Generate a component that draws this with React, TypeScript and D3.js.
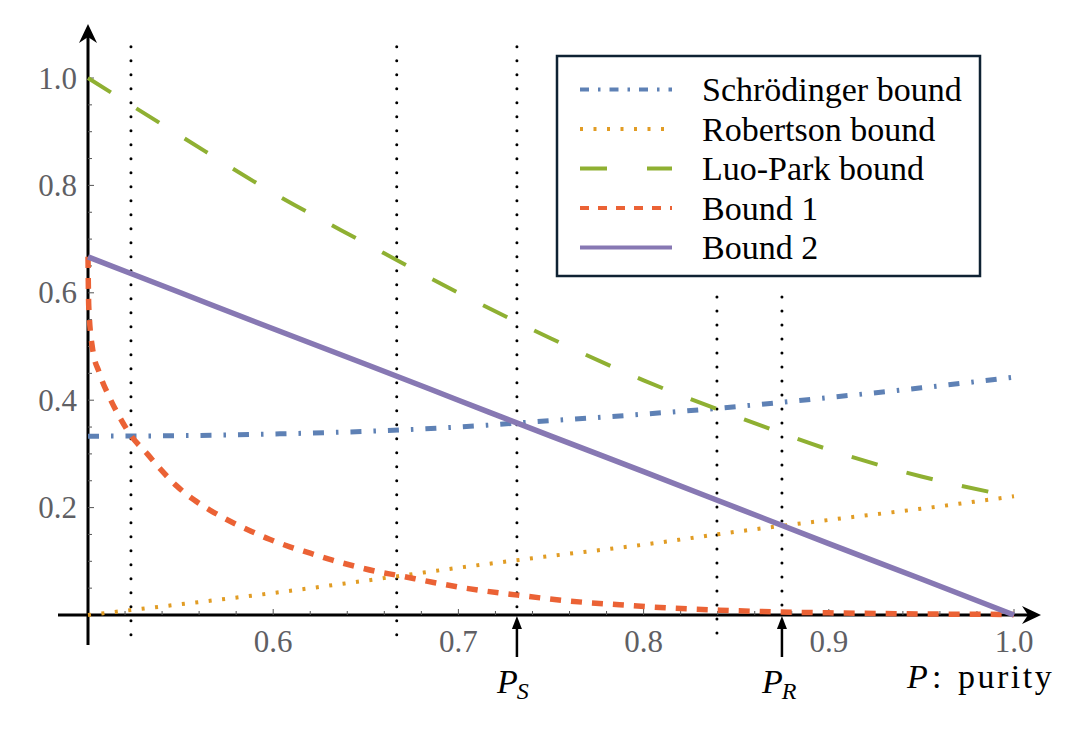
import { useEffect, useRef } from "react";
import * as d3 from "d3";

// purity grid shared by the smooth bounds
const purity = [0.5, 0.55, 0.6, 0.65, 0.7, 0.75, 0.8, 0.85, 0.9, 0.95, 1.0];
const schrodingerBound = [0.333, 0.334, 0.337, 0.342, 0.35, 0.362, 0.374, 0.388, 0.405, 0.423, 0.443];
const robertsonBound = [0.0, 0.02, 0.041, 0.064, 0.088, 0.11, 0.131, 0.155, 0.177, 0.198, 0.221];
const luoParkBound = [1.0, 0.892, 0.786, 0.692, 0.6, 0.515, 0.437, 0.37, 0.308, 0.258, 0.22];
const bound2 = [0.667, 0.6, 0.533, 0.467, 0.4, 0.333, 0.267, 0.2, 0.133, 0.067, 0.0];

// bound 1 falls steeply near P = 0.5, so it gets its own denser grid
const bound1Purity = [
  0.5, 0.5004, 0.5025, 0.506, 0.5115, 0.517, 0.523, 0.532, 0.539, 0.548, 0.557, 0.566,
  0.577, 0.588, 0.598, 0.609, 0.62, 0.632, 0.645, 0.656, 0.667, 0.686, 0.702, 0.732,
  0.76, 0.787, 0.814, 0.841, 0.87, 0.9, 0.95, 1.0,
];
const bound1 = [
  0.667, 0.575, 0.495, 0.452, 0.406, 0.369, 0.335, 0.3, 0.272, 0.24, 0.215, 0.195,
  0.174, 0.156, 0.141, 0.127, 0.115, 0.102, 0.09, 0.081, 0.074, 0.061, 0.051, 0.037,
  0.026, 0.019, 0.013, 0.009, 0.006, 0.004, 0.002, 0.001,
];

const xTickLabels = [0.6, 0.7, 0.8, 0.9, 1.0];
const yTickLabels = [0.2, 0.4, 0.6, 0.8, 1.0];

// vertical dotted markers (crossing points)
const markerPurity = [0.5232, 0.6667, 0.7316, 0.8396, 0.8747];
const markerTop = [1.058, 1.058, 1.058, 0.592, 0.592];
const markerBottom = [-0.056, -0.056, 0, -0.056, 0];

const arrowPurity = [0.7316, 0.8747];
const arrowSub = ["S", "R"];

const seriesNames = ["Schrödinger bound", "Robertson bound", "Luo-Park bound", "Bound 1", "Bound 2"];

const W = 1089;
const H = 729;
const FAMILY = "Liberation Serif";

type Series = {
  name: string;
  xs: number[];
  ys: number[];
  color: string;
  width: number;
  dash: string | null;
  legendDash: string | null;
};

const series: Series[] = [
  { name: seriesNames[0], xs: purity, ys: schrodingerBound, color: "#5e81b5", width: 5, dash: "11 12 2.5 12", legendDash: "9 9 2.5 9" },
  { name: seriesNames[1], xs: purity, ys: robertsonBound, color: "#e19c24", width: 4, dash: "3 10.5", legendDash: "3 10.5" },
  { name: seriesNames[2], xs: purity, ys: luoParkBound, color: "#8fb032", width: 4, dash: "27 30", legendDash: "27 40" },
  { name: seriesNames[3], xs: bound1Purity, ys: bound1, color: "#eb6235", width: 5.5, dash: "11 10", legendDash: "9 9" },
  { name: seriesNames[4], xs: purity, ys: bound2, color: "#8778b3", width: 5.5, dash: null, legendDash: null },
];

export default function App() {
  const svgRef = useRef<SVGSVGElement>(null);

  useEffect(() => {
    if (!svgRef.current) return;
    const svg = d3.select(svgRef.current);
    svg.selectAll("*").remove();

    const x = d3.scaleLinear().domain([0.5, 1]).range([88, 1014]);
    const y = d3.scaleLinear().domain([0, 1]).range([615, 78]);
    const x0 = x(0.5);
    const y0 = y(0);

    svg.append("rect").attr("width", W).attr("height", H).attr("fill", "#fff");

    // dotted crossing markers
    svg
      .append("g")
      .selectAll("line")
      .data(markerPurity)
      .join("line")
      .attr("x1", (d) => x(d))
      .attr("x2", (d) => x(d))
      .attr("y1", (_, i) => y(markerTop[i]))
      .attr("y2", (_, i) => y(markerBottom[i]))
      .attr("stroke", "#000")
      .attr("stroke-width", 3)
      .attr("stroke-dasharray", "0 14")
      .attr("stroke-linecap", "round");

    // axes with arrowheads
    const axes = svg.append("g");
    axes.append("line").attr("x1", x0).attr("x2", x0).attr("y1", 645).attr("y2", 34)
      .attr("stroke", "#000").attr("stroke-width", 3);
    axes.append("path").attr("d", `M${x0},24 L${x0 - 9},43 L${x0},37 L${x0 + 9},43 Z`).attr("fill", "#000");
    axes.append("line").attr("x1", 58).attr("x2", 1030).attr("y1", y0).attr("y2", y0)
      .attr("stroke", "#000").attr("stroke-width", 3);
    axes.append("path").attr("d", `M1041,${y0} L1022,${y0 - 9} L1028,${y0} L1022,${y0 + 9} Z`).attr("fill", "#000");

    const xMinor = d3.range(0.52, 1.001, 0.02);
    const yMinor = d3.range(0.05, 1.001, 0.05);
    axes.selectAll(".xt").data(xMinor).join("line").attr("class", "xt")
      .attr("x1", (d) => x(d)).attr("x2", (d) => x(d))
      .attr("y1", y0)
      .attr("y2", (d) => y0 - (Math.abs(d * 10 - Math.round(d * 10)) < 1e-6 ? 6 : 4))
      .attr("stroke", "#555").attr("stroke-width", 1);
    axes.selectAll(".yt").data(yMinor).join("line").attr("class", "yt")
      .attr("y1", (d) => y(d)).attr("y2", (d) => y(d))
      .attr("x1", x0)
      .attr("x2", (d) => x0 + (Math.abs(d * 5 - Math.round(d * 5)) < 1e-6 ? 6 : 4))
      .attr("stroke", "#555").attr("stroke-width", 1);

    axes.selectAll(".xl").data(xTickLabels).join("text").attr("class", "xl")
      .attr("x", (d) => x(d)).attr("y", 652)
      .attr("text-anchor", "middle")
      .attr("font-family", FAMILY).style("font-family", FAMILY)
      .attr("font-size", 31).attr("fill", "#5f5f64")
      .text((d) => d.toFixed(1));
    axes.selectAll(".yl").data(yTickLabels).join("text").attr("class", "yl")
      .attr("x", 77).attr("y", (d) => y(d) + 10.5)
      .attr("text-anchor", "end")
      .attr("font-family", FAMILY).style("font-family", FAMILY)
      .attr("font-size", 31).attr("fill", "#5f5f64")
      .text((d) => d.toFixed(1));

    // curves
    const line = d3
      .line<[number, number]>()
      .x((d) => x(d[0]))
      .y((d) => y(d[1]))
      .curve(d3.curveMonotoneX);

    svg.append("g").selectAll("path").data(series).join("path")
      .attr("d", (s) => line(s.xs.map((p, i) => [p, s.ys[i]] as [number, number])) || "")
      .attr("fill", "none")
      .attr("stroke", (s) => s.color)
      .attr("stroke-width", (s) => s.width)
      .attr("stroke-dasharray", (s) => s.dash);

    // arrows to P_S and P_R
    const arrows = svg.append("g");
    arrowPurity.forEach((p, i) => {
      const ax = x(p);
      arrows.append("line").attr("x1", ax).attr("x2", ax).attr("y1", 657).attr("y2", 626)
        .attr("stroke", "#000").attr("stroke-width", 2.5);
      arrows.append("path").attr("d", `M${ax},616 L${ax - 5},629 L${ax + 5},629 Z`).attr("fill", "#000");
      const t = arrows.append("text").attr("x", ax - 20).attr("y", 693)
        .attr("font-family", FAMILY).style("font-family", FAMILY)
        .attr("font-size", 34).attr("fill", "#000");
      t.append("tspan").attr("font-style", "italic").text("P");
      t.append("tspan").attr("font-style", "italic").attr("font-size", 24)
        .attr("dx", -1).attr("dy", 6).text(arrowSub[i]);
    });

    const axisLabel = svg.append("text").attr("y", 688)
      .attr("font-family", FAMILY).style("font-family", FAMILY)
      .attr("font-size", 34).attr("fill", "#000");
    axisLabel.append("tspan").attr("x", 907).attr("font-style", "italic").text("P");
    axisLabel.append("tspan").attr("x", 932).text(":");
    axisLabel.append("tspan").attr("x", 958).attr("letter-spacing", 2.5).text("purity");

    // legend
    const legend = svg.append("g");
    legend.append("rect").attr("x", 557).attr("y", 56).attr("width", 423).attr("height", 220)
      .attr("fill", "#fff").attr("stroke", "#0f2233").attr("stroke-width", 2.5);
    series.forEach((s, i) => {
      const ly = 89.5 + i * 39.5;
      legend.append("line").attr("x1", 580).attr("x2", 672).attr("y1", ly).attr("y2", ly)
        .attr("stroke", s.color).attr("stroke-width", Math.min(s.width, 4))
        .attr("stroke-dasharray", s.legendDash);
      legend.append("text").attr("x", 702).attr("y", ly + 11.5)
        .attr("font-family", FAMILY).style("font-family", FAMILY)
        .attr("font-size", 34).attr("fill", "#000")
        .text(s.name);
    });
  }, []);

  return (
    <svg
      ref={svgRef}
      width={W}
      height={H}
      style={{ position: "absolute", left: 0, top: 0, fontFamily: FAMILY }}
    />
  );
}
